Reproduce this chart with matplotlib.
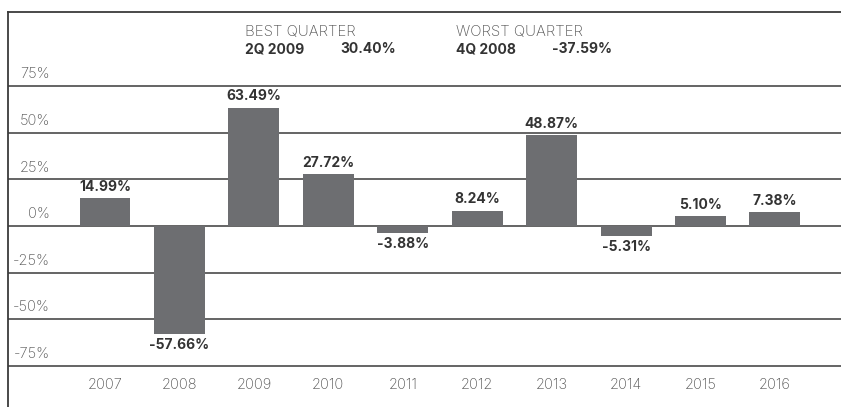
import matplotlib
matplotlib.use("Agg")
import matplotlib.pyplot as plt

plt.rcParams['font.family'] = ['Inter', 'DejaVu Sans']

years = ["2007", "2008", "2009", "2010", "2011", "2012", "2013", "2014", "2015", "2016"]
returns = [14.99, -57.66, 63.49, 27.72, -3.88, 8.24, 48.87, -5.31, 5.10, 7.38]
yticks = [75, 50, 25, 0, -25, -50, -75]
best_q = ("2Q 2009", "30.40%")
worst_q = ("4Q 2008", "-37.59%")

W, H = 841, 407
fig = plt.figure(figsize=(W / 100, H / 100), dpi=100)
ax = fig.add_axes([8 / W, 0, (W - 8) / W, (H - 12) / H])

bar_color = "#6d6e71"
text_dark = "#333333"
text_gray = "#555555"
line_color = "#3a3a3a"

x = list(range(len(years)))
ax.bar(x, returns, width=0.685, color=bar_color, zorder=3)

ax.set_xlim(-1.303, 9.887)
ax.set_ylim(-97.0, 114.7)

# gridlines + percent labels sitting just above them
for t in yticks:
    ax.axhline(t, color=line_color, lw=1.1, zorder=2)
    ax.text(-0.74, t + 2.6, f"{t}%", ha="right", va="bottom",
            fontsize=10.5, fontweight="light", color=text_gray)

# value labels
for xi, v in zip(x, returns):
    if v >= 0:
        ax.annotate(f"{v:.2f}%", (xi, v), xytext=(0, 3), textcoords="offset points",
                    ha="center", va="bottom", fontsize=10, fontweight="bold", color=text_dark)
    else:
        ax.annotate(f"{v:.2f}%", (xi, v), xytext=(0, -3), textcoords="offset points",
                    ha="center", va="top", fontsize=10, fontweight="bold", color=text_dark)

# year labels
for xi, y in zip(x, years):
    ax.text(xi, -85.2, y, ha="center", va="center", fontsize=10.5,
            fontweight="light", color=text_gray)

ax.set_xticks([])
ax.set_yticks([])
for s in ["right", "bottom"]:
    ax.spines[s].set_visible(False)
for s in ["left", "top"]:
    ax.spines[s].set_color(line_color)
    ax.spines[s].set_linewidth(1.3)

# header
fig.text(245 / W, 1 - 32 / H, "BEST QUARTER", ha="left", va="center", fontsize=10.8,
         fontweight="light", color=text_gray)
fig.text(245 / W, 1 - 49 / H, best_q[0], ha="left", va="center", fontsize=10, fontweight="bold", color=text_dark)
fig.text(340 / W, 1 - 49 / H, best_q[1], ha="left", va="center", fontsize=10, fontweight="bold", color=text_dark)
fig.text(456 / W, 1 - 32 / H, "WORST QUARTER", ha="left", va="center", fontsize=10.8,
         fontweight="light", color=text_gray)
fig.text(456 / W, 1 - 49 / H, worst_q[0], ha="left", va="center", fontsize=10, fontweight="bold", color=text_dark)
fig.text(552 / W, 1 - 49 / H, worst_q[1], ha="left", va="center", fontsize=10, fontweight="bold", color=text_dark)

fig.savefig("out.png", dpi=100)
